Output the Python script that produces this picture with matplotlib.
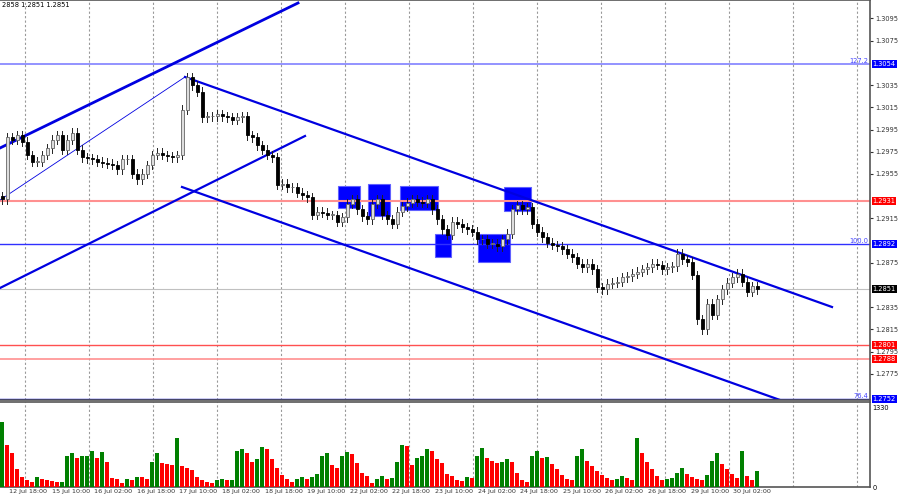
import matplotlib
matplotlib.use("Agg")
import matplotlib.pyplot as plt
from matplotlib.patches import Rectangle
import numpy as np

closes = [1.2932,1.2988,1.2986,1.2990,1.2984,1.2972,1.2966,1.2966,1.2972,1.2978,
1.2986,1.2990,1.2977,1.2986,1.2992,1.2977,1.2970,1.2969,1.2968,1.2966,
1.2965,1.2964,1.2963,1.2959,1.2968,1.2968,1.2955,1.2950,1.2955,1.2963,
1.2972,1.2974,1.2972,1.2971,1.2970,1.2972,1.3013,1.3042,1.3035,1.3029,
1.3006,1.3007,1.3007,1.3009,1.3007,1.3006,1.3004,1.3006,1.3007,1.2990,
1.2988,1.2981,1.2977,1.2972,1.2970,1.2945,1.2946,1.2943,1.2943,1.2938,
1.2936,1.2934,1.2918,1.2921,1.2920,1.2918,1.2918,1.2912,1.2916,1.2928,
1.2932,1.2923,1.2917,1.2914,1.2928,1.2932,1.2918,1.2914,1.2910,1.2921,
1.2926,1.2929,1.2932,1.2930,1.2929,1.2932,1.2923,1.2914,1.2905,1.2900,
1.2912,1.2910,1.2907,1.2905,1.2903,1.2896,1.2896,1.2892,1.2892,1.2890,
1.2896,1.2901,1.2923,1.2927,1.2923,1.2925,1.2910,1.2903,1.2898,1.2893,
1.2891,1.2890,1.2887,1.2883,1.2880,1.2874,1.2871,1.2874,1.2869,1.2853,
1.2851,1.2856,1.2857,1.2858,1.2862,1.2863,1.2865,1.2867,1.2869,1.2871,
1.2874,1.2873,1.2869,1.2871,1.2872,1.2883,1.2878,1.2876,1.2864,1.2824,
1.2815,1.2838,1.2828,1.2842,1.2851,1.2857,1.2862,1.2865,1.2858,1.2849,
1.2854,1.2851]

volumes = [1080,700,560,300,160,110,90,160,140,120,
100,80,90,520,560,480,510,520,600,480,
580,420,150,140,60,130,110,170,160,140,
420,560,400,380,360,820,350,320,280,160,
120,90,60,110,130,110,120,600,640,560,
420,460,660,640,460,320,200,130,80,140,
170,130,160,220,520,560,360,320,520,580,
550,400,240,180,60,130,190,140,150,420,
700,680,360,480,520,640,600,460,400,220,
190,120,100,170,150,520,650,480,440,400,
420,460,420,230,120,90,520,600,480,500,
380,300,200,140,110,520,640,430,350,260,
200,150,110,140,180,150,120,820,560,420,
300,180,120,130,150,240,320,220,160,130,
120,200,430,560,380,300,220,150,600,180,
110,260]

levels_blue = [1.3054, 1.2892, 1.2752]
fib_labels = ["127.2", "100.0", "76.4"]
levels_red = [1.2931, 1.2801, 1.2788]
last_price = 1.2851
time_labels = ["12 Jul 18:00","15 Jul 10:00","16 Jul 02:00","16 Jul 18:00","17 Jul 10:00",
"18 Jul 02:00","18 Jul 18:00","19 Jul 10:00","22 Jul 02:00","22 Jul 18:00","23 Jul 10:00",
"24 Jul 02:00","24 Jul 18:00","25 Jul 10:00","26 Jul 02:00","26 Jul 18:00","29 Jul 10:00","30 Jul 02:00"]

W, H = 900, 500
PW = 870
def px2x(px): return (px - 2) / 5.0
def py2p(py): return 1.31116 - py / 11107.0

fig = plt.figure(figsize=(9, 5), dpi=100)
fig.patch.set_facecolor("white")
ax = fig.add_axes([0, 100/H, PW/W, 400/H])
axv = fig.add_axes([0, 13/H, PW/W, 85/H])
xl = (px2x(0), px2x(PW))
ax.set_xlim(*xl); axv.set_xlim(*xl)
ax.set_ylim(py2p(400), py2p(0))

for gx in range(25, PW, 64):
    for a in (ax, axv):
        a.axvline(px2x(gx), color="#999999", ls=(0, (2, 2)), lw=0.8, zorder=0)

ax.axhline(1.3054, color="#8080ff", lw=1.2)
ax.axhline(1.2892, color="#3030ff", lw=1.0)
ax.axhline(1.2752, color="#0000cc", lw=1.0)
ax.axhline(1.2749, color="#0000cc", lw=1.0)
ax.axhline(1.2931, color="#ff9090", lw=1.5)
ax.axhline(1.2801, color="#ff5050", lw=1.0)
ax.axhline(1.2788, color="#ff9090", lw=1.2)
ax.axhline(last_price, color="#c0c0c0", lw=0.8)

segs = [((0,148),(298,3),2.0), ((0,200),(185,77),0.6), ((0,288),(305,136),1.6),
        ((185,77),(832,307),1.6), ((182,187),(780,400),1.6)]
for (x0,y0),(x1,y1),lw in segs:
    ax.plot([px2x(x0),px2x(x1)],[py2p(y0),py2p(y1)], color="#0000e0", lw=lw, zorder=2)

rects = [(338,186,360,208),(368,184,390,216),(400,186,438,210),(435,234,451,257),(478,234,510,262),(504,187,531,211)]
for x0,y0,x1,y1 in rects:
    ax.add_patch(Rectangle((px2x(x0), py2p(y1)), px2x(x1)-px2x(x0), py2p(y0)-py2p(y1),
                           facecolor="#0000ff", edgecolor="#6060ff", lw=0.8, zorder=1.5))

c = np.array(closes)
o = np.r_[c[0] + 0.0003, c[:-1]]
for i in range(len(c)):
    hi = max(o[i], c[i]) + 0.0004
    lo = min(o[i], c[i]) - 0.0004
    ax.plot([i, i], [lo, hi], color="#222222", lw=0.7, zorder=4)
    up = c[i] >= o[i]
    bot = min(o[i], c[i]); h = max(abs(c[i]-o[i]), 0.00005)
    ax.add_patch(Rectangle((i-0.3, bot), 0.6, h, facecolor="#dddddd" if up else "black",
                           edgecolor="#666666" if up else "black", lw=0.6, zorder=5))

v = np.array(volumes)
cols = ["#008000" if (i == 0 or v[i] >= v[i-1]) else "#ff0000" for i in range(len(v))]
axv.bar(np.arange(len(v)), v, width=0.7, color=cols, zorder=3)
axv.set_ylim(0, 1420)

for a in (ax, axv):
    a.set_xticks([]); a.yaxis.tick_right()
    for s in a.spines.values():
        s.set_color("#555555"); s.set_linewidth(1.2)
    a.spines["left"].set_visible(False)

ticks = [1.3095,1.3075,1.3035,1.3015,1.2995,1.2975,1.2955,1.2915,1.2875,1.2835,1.2815,1.2795,1.2775]
ax.set_yticks(ticks)
ax.set_yticklabels([f"{t:.4f}" for t in ticks], fontsize=4.8)
ax.tick_params(axis="y", length=2.5, pad=1.5, colors="#333333")
axv.set_yticks([0, 1330]); axv.set_yticklabels(["0", "1330"], fontsize=4.8)
axv.tick_params(axis="y", length=0, pad=2)

def box(p, fc, tc="white"):
    ax.text(1.003, p, f"{p:.4f}", transform=ax.get_yaxis_transform(), fontsize=4.8, color=tc,
            va="center", ha="left", bbox=dict(boxstyle="square,pad=0.15", fc=fc, ec="none"), zorder=10, clip_on=False)
for p in levels_blue: box(p, "#0000ff")
for p in levels_red: box(p, "#ff0000")
box(last_price, "black")
for p, t in zip(levels_blue, fib_labels):
    ax.text(0.998, p, t, transform=ax.get_yaxis_transform(), fontsize=4.8, color="#4040ff", ha="right", va="bottom")

ax.text(0.002, 0.995, "2858 1.2851 1.2851", transform=ax.transAxes, fontsize=4.8, va="top", ha="left")

for k, t in enumerate(time_labels):
    xp = 9 + 42.6 * k
    fig.text(xp / W, 1 - 492 / H, t, fontsize=4.6, ha="left", va="center", color="#333333")

fig.savefig("out.png", dpi=100)
